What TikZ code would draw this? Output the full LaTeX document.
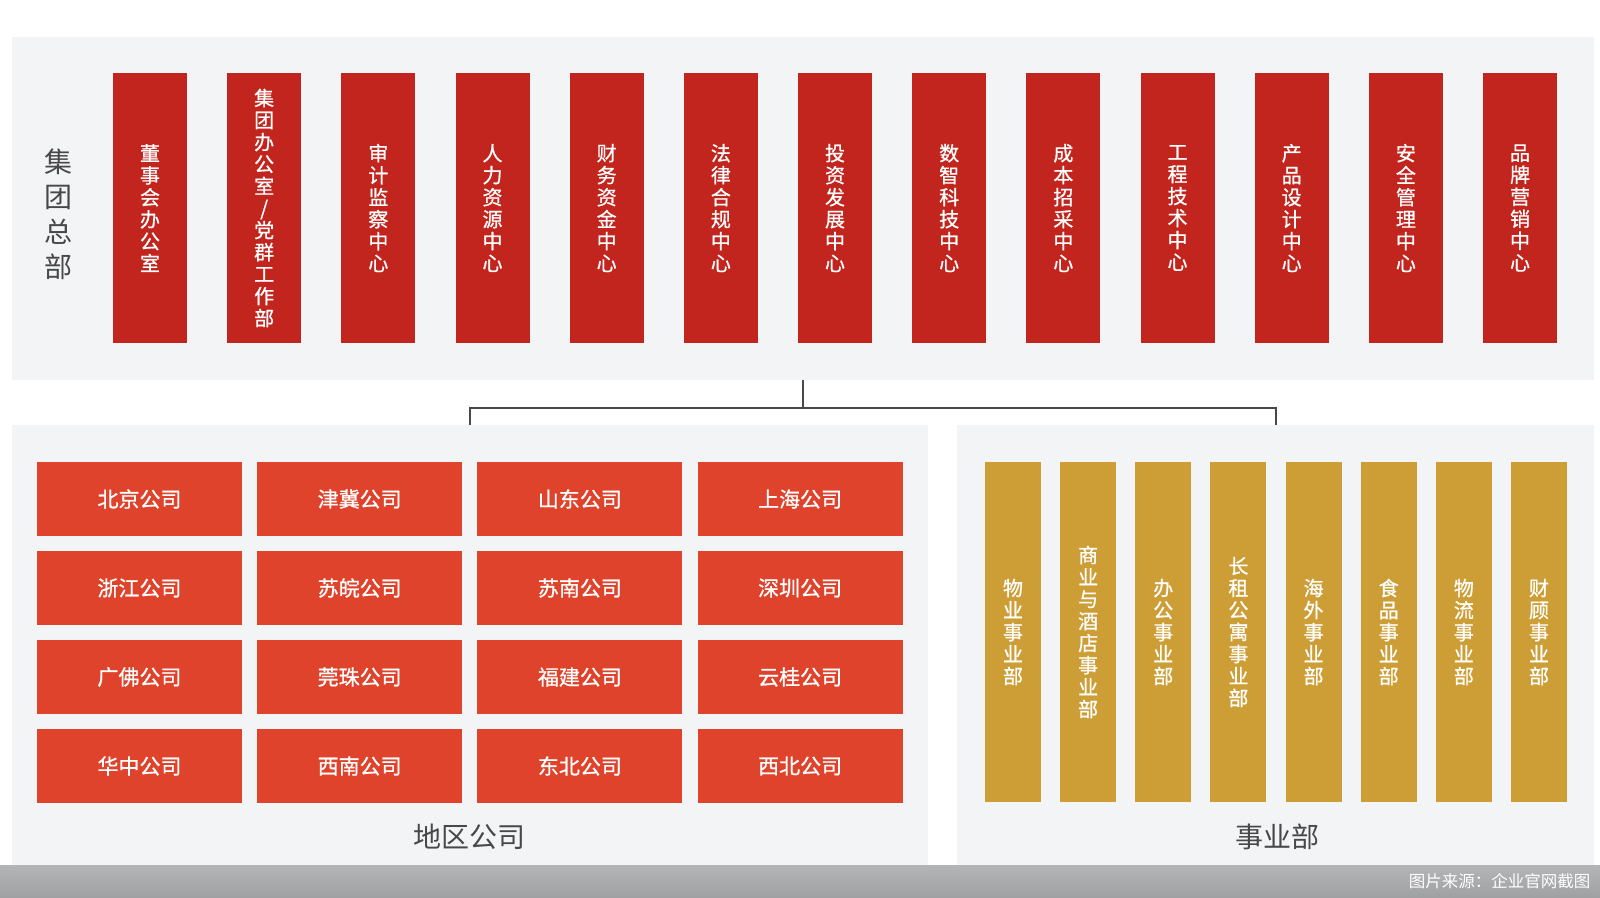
\documentclass[tikz,border=0pt]{standalone}
\usepackage{fontspec}
\setmainfont{Noto Sans CJK SC}
\newfontfamily\boxfont{Noto Sans CJK SC}[FakeBold=0.8]
\usepackage{xcolor}
\usepackage{tikz}
\usetikzlibrary{positioning}

\definecolor{hqred}{RGB}{194,37,29}
\definecolor{regionred}{RGB}{224,67,43}
\definecolor{bizgold}{RGB}{206,158,54}
\definecolor{panelgray}{RGB}{243,244,246}
\definecolor{labelgray}{RGB}{72,72,74}
\definecolor{foottop}{RGB}{180,181,183}
\definecolor{footbottom}{RGB}{160,161,163}

% one character per line
\makeatletter
\newcommand\vtxt[1]{\vbox{\expandafter\@tfor\expandafter\vch\expandafter:\expandafter=#1\do{\hbox to 1em{\hss\vch\hss}}}}
\makeatother

\begin{document}
\begin{tikzpicture}
            [x=1pt,y=-1pt,
             panel node/.style={fill=panelgray,draw=none,inner sep=0pt},
             hq node/.style={fill=hqred,minimum width=74pt,minimum height=270pt,inner sep=0pt,text=white,font=\boxfont\fontsize{20pt}{22pt}\selectfont},
             region node/.style={fill=regionred,minimum width=205pt,minimum height=74pt,inner sep=0pt,text=white,font=\boxfont\fontsize{21pt}{24pt}\selectfont},
             biz node/.style={fill=bizgold,minimum width=56pt,minimum height=340pt,inner sep=0pt,text=white,font=\boxfont\fontsize{20pt}{22pt}\selectfont},
             group label/.style={text=labelgray,font=\fontsize{28pt}{35pt}\selectfont},
             link/.style={draw=labelgray,line width=2pt}]
            \useasboundingbox (0,0) rectangle (1600,897);
            \node[panel node,minimum width=1582pt,minimum height=343pt] (hq) at (803,208.5) {};
            \node[panel node,minimum width=916pt,minimum height=440pt] (region) at (470,645) {};
            \node[panel node,minimum width=637pt,minimum height=440pt] (biz) at (1275.5,645) {};
            \shade[top color=foottop,bottom color=footbottom] (0,865) rectangle (1600,897);
            \node[anchor=east,text=white,font=\fontsize{16.5pt}{18pt}\selectfont] (source) at (1594,881) {图片来源：企业官网截图};
            \node[group label] (hqlabel) at (58,214) {\vtxt{集团总部}};
            \foreach \name [count=\i from 0] in {董事会办公室,集团办公室/党群工作部,审计监察中心,人力资源中心,财务资金中心,法律合规中心,投资发展中心,数智科技中心,成本招采中心,工程技术中心,产品设计中心,安全管理中心,品牌营销中心}
              \node[hq node] (hq-\i) at (150+\i*114.17,208) {\vtxt{\name}};
            \foreach \name [count=\i from 0] in {北京公司,津冀公司,山东公司,上海公司,浙江公司,苏皖公司,苏南公司,深圳公司,广佛公司,莞珠公司,福建公司,云桂公司,华中公司,西南公司,东北公司,西北公司}
              \node[region node] (co-\i) at ({139.5+mod(\i,4)*220.2},{499+floor(\i/4)*89}) {\name};
            \foreach \name [count=\i from 0] in {物业事业部,商业与酒店事业部,办公事业部,长租公寓事业部,海外事业部,食品事业部,物流事业部,财顾事业部}
              \node[biz node] (bu-\i) at (1013+\i*75.14,632) {\vtxt{\name}};
            \node[group label] (regionlabel) at (469,837) {地区公司};
            \node[group label] (bizlabel) at (1277,837) {事业部};
            \draw[link] (hq.south) -- ++(0,28) coordinate (fork);
            \draw[link] (region.north) |- (fork) -| (biz.north);
            \end{tikzpicture}
\end{document}
